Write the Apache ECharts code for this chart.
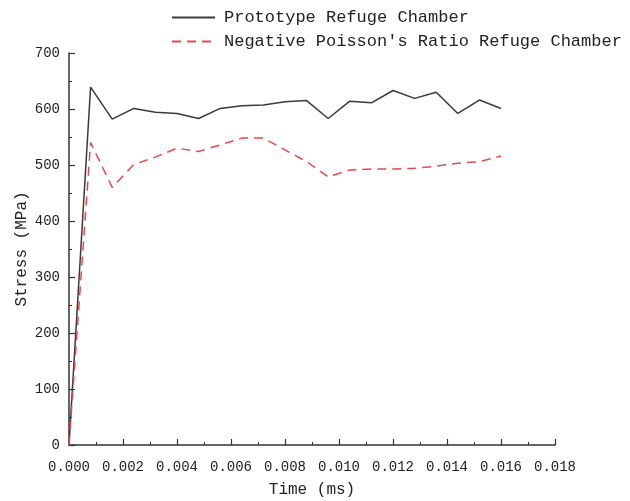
<!DOCTYPE html>
<html>
<head>
<meta charset="utf-8">
<script src="https://cdn.jsdelivr.net/npm/echarts@6/dist/echarts.min.js"></script>
<style>html,body{margin:0;padding:0;background:#fff;}#c{width:630px;height:501px;}</style>
</head>
<body>
<div id="c"></div>
<script>
var times = [0, 0.0008, 0.0016, 0.0024, 0.0032, 0.004, 0.0048, 0.0056, 0.0064, 0.0072, 0.008, 0.0088, 0.0096, 0.0104, 0.0112, 0.012, 0.0128, 0.0136, 0.0144, 0.0152, 0.016];
var prototypeStress = [0, 639, 582, 601, 594, 592, 583, 601, 606, 607, 613, 615, 583, 614, 611, 633, 619, 630, 592, 616, 601];
var npStress = [0, 540, 460, 501, 514, 530, 524, 536, 548, 548, 527, 506, 479, 491, 493, 493, 494, 498, 503, 506, 516];
var seriesNames = ['Prototype Refuge Chamber', "Negative Poisson's Ratio Refuge Chamber"];
var xTicks = [0, 0.002, 0.004, 0.006, 0.008, 0.010, 0.012, 0.014, 0.016, 0.018];
var yTicks = [0, 100, 200, 300, 400, 500, 600, 700];

function pairs(xs, ys) { return xs.map(function (x, i) { return [x, ys[i]]; }); }

var FONT = 'Liberation Mono';
var chart = echarts.init(document.getElementById('c'), null, {renderer: 'canvas'});
var axisCommon = {
  axisLine: {show: true, onZero: false, lineStyle: {color: '#333', width: 1.5}},
  axisTick: {show: true, inside: true, length: 6, lineStyle: {color: '#333', width: 1.2}},
  minorTick: {show: true, splitNumber: 2, length: 3, lineStyle: {color: '#333', width: 1}},
  splitLine: {show: false},
  nameLocation: 'middle',
  nameMoveOverlap: false,
  nameTextStyle: {fontFamily: FONT, fontSize: 16, color: '#222'}
};
chart.setOption({
  animation: false,
  backgroundColor: '#fff',
  grid: {left: 69, right: 75, top: 53, bottom: 56, containLabel: false, outerBoundsMode: 'none'},
  legend: {
    orient: 'vertical', left: 171, top: 9, padding: 0,
    itemWidth: 43, itemHeight: 14, itemGap: 7,
    itemStyle: {opacity: 0, color: 'rgba(0,0,0,0)', borderWidth: 0},
    textStyle: {fontFamily: FONT, fontSize: 17, color: '#222', padding: [0, 0, 0, 4]},
    data: seriesNames
  },
  xAxis: Object.assign({}, axisCommon, {
    type: 'value', min: xTicks[0], max: xTicks[xTicks.length - 1], interval: 0.002,
    name: 'Time (ms)', nameGap: 37,
    axisLabel: {fontFamily: FONT, fontSize: 14, color: '#222', margin: 15,
      formatter: function (v) { return v.toFixed(3); }}
  }),
  yAxis: Object.assign({}, axisCommon, {
    type: 'value', min: yTicks[0], max: yTicks[yTicks.length - 1], interval: 100,
    name: 'Stress (MPa)', nameGap: 39,
    axisLabel: {fontFamily: FONT, fontSize: 14, color: '#222', margin: 9}
  }),
  series: [
    {name: seriesNames[0], type: 'line', data: pairs(times, prototypeStress),
      showSymbol: false, symbol: 'none', color: '#3a3a3a',
      lineStyle: {color: '#3a3a3a', width: 1.5}},
    {name: seriesNames[1], type: 'line', data: pairs(times, npStress),
      showSymbol: false, symbol: 'none', color: '#e8474c',
      lineStyle: {color: '#e8474c', width: 1.5, type: [9, 6]}}
  ]
});
</script>
</body>
</html>
